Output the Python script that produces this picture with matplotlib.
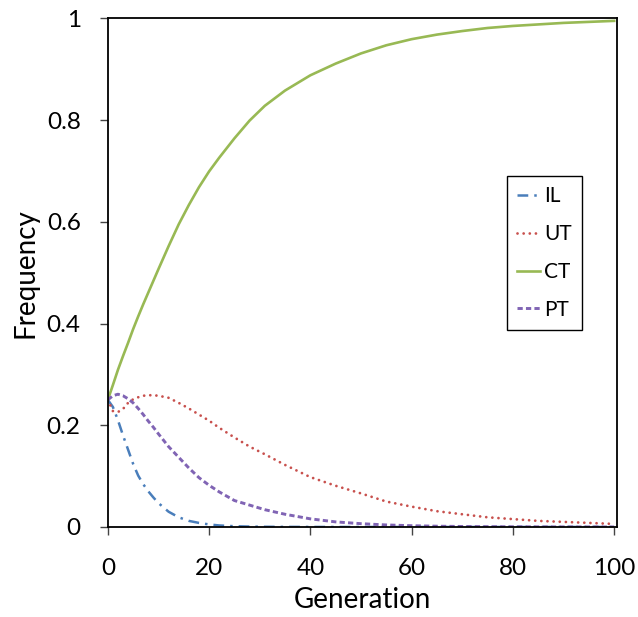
import matplotlib
matplotlib.use("Agg")
import matplotlib.pyplot as plt

generations = [0, 1, 2, 3, 4, 5, 6, 7, 8, 9, 10, 12, 14, 16, 18, 20, 22, 25, 28, 31,
               35, 40, 45, 50, 55, 60, 65, 70, 75, 80, 85, 90, 95, 100]

il = [0.25, 0.236, 0.210, 0.180, 0.152, 0.124, 0.101, 0.084, 0.070, 0.058, 0.047,
      0.030, 0.019, 0.012, 0.008, 0.005, 0.003, 0.0015, 0.0008, 0.0004,
      0.0002, 0.0001, 0.0, 0.0, 0.0, 0.0, 0.0, 0.0, 0.0, 0.0, 0.0, 0.0, 0.0, 0.0]

ut = [0.25, 0.228, 0.226, 0.232, 0.244, 0.251, 0.255, 0.258, 0.259, 0.259, 0.258,
      0.254, 0.244, 0.233, 0.221, 0.209, 0.195, 0.176, 0.158, 0.143,
      0.122, 0.098, 0.081, 0.066, 0.050, 0.040, 0.031, 0.025, 0.019, 0.0155,
      0.012, 0.010, 0.008, 0.006]

ct = [0.25, 0.279, 0.309, 0.336, 0.362, 0.389, 0.414, 0.438, 0.461, 0.484, 0.507,
      0.552, 0.595, 0.633, 0.668, 0.699, 0.726, 0.764, 0.799, 0.828,
      0.858, 0.888, 0.911, 0.931, 0.947, 0.959, 0.968, 0.975, 0.981, 0.985,
      0.988, 0.991, 0.993, 0.995]

pt = [0.25, 0.258, 0.261, 0.258, 0.252, 0.244, 0.233, 0.221, 0.208, 0.196, 0.183,
      0.158, 0.137, 0.116, 0.097, 0.082, 0.069, 0.052, 0.043, 0.034,
      0.025, 0.016, 0.010, 0.0065, 0.004, 0.0025, 0.0015, 0.001, 0.0006, 0.0004,
      0.0002, 0.0001, 0.0001, 0.0]

x_ticks = [0, 20, 40, 60, 80, 100]
y_ticks = [0, 0.2, 0.4, 0.6, 0.8, 1.0]
y_tick_labels = ["0", "0.2", "0.4", "0.6", "0.8", "1"]

plt.rcParams['font.family'] = ['Lato', 'DejaVu Sans']

fig = plt.figure(figsize=(6.38, 6.17), dpi=100)
ax = fig.add_axes([0.169, 0.1459, 0.7976, 0.8244])

ax.plot(generations, il, color='#4a7ebb', lw=1.8, linestyle=(0, (4.3, 2.4, 1, 2.4)),
        dash_capstyle='butt', label='IL')
ax.plot(generations, ut, color='#c8504d', lw=2.0, linestyle=(0, (0.01, 2.2)),
        dash_capstyle='round', label='UT')
ax.plot(generations, ct, color='#98b954', lw=1.9, linestyle='-', label='CT')
ax.plot(generations, pt, color='#8064b4', lw=2.1, linestyle=(0, (1.8, 1.1)),
        dash_capstyle='butt', label='PT')

ax.set_xlim(0, 100.5)
ax.set_ylim(0, 1.0)
ax.set_xticks(x_ticks)
ax.set_yticks(y_ticks)
ax.set_yticklabels(y_tick_labels)
ax.tick_params(axis='both', direction='out', length=6, width=1, labelsize=17.5,
               color='#444444')
ax.tick_params(axis='x', pad=16)
ax.tick_params(axis='y', pad=13.5)
for s in ax.spines.values():
    s.set_linewidth(1.3)
    s.set_color('black')

ax.set_xlabel('Generation', fontsize=20, labelpad=6)
ax.set_ylabel('Frequency', fontsize=20, labelpad=6)

leg = ax.legend(loc='upper left', bbox_to_anchor=(0.784, 0.690), borderaxespad=0,
                fancybox=False, edgecolor='black', fontsize=15, handlelength=1.1,
                handletextpad=0.2, labelspacing=0.85, borderpad=0.5, framealpha=1)
leg.get_frame().set_linewidth(1.0)

fig.savefig('out.png', dpi=100)
